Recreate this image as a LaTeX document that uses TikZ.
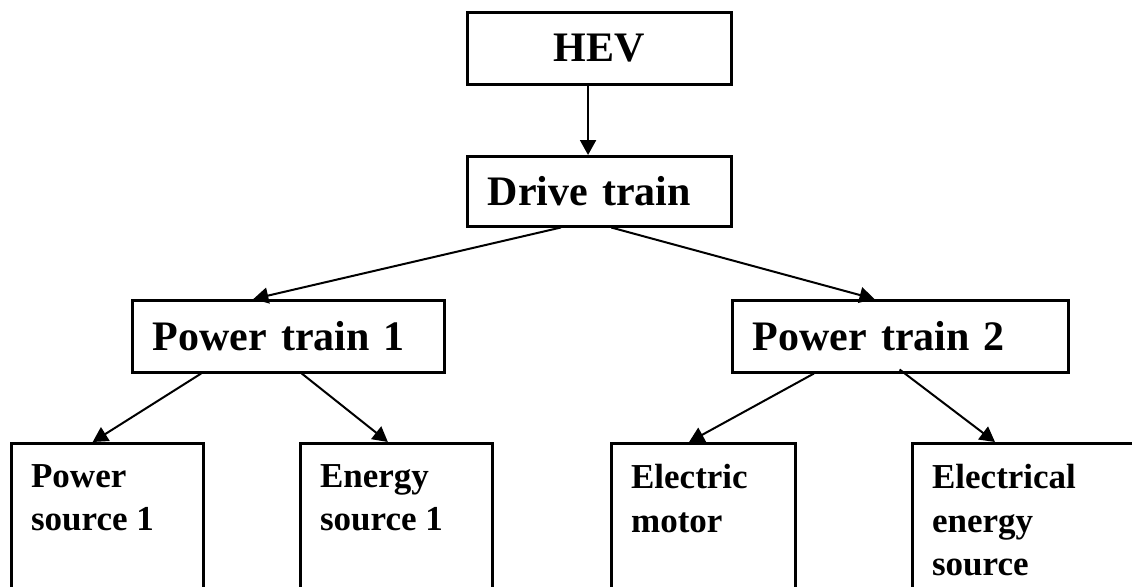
\documentclass[tikz,border=0pt]{standalone}
\usepackage{fontspec}
\setmainfont{Liberation Serif}
\usetikzlibrary{arrows.meta,calc}

\begin{document}
\begin{tikzpicture}[x=0.5pt, y=-0.5pt,
  box/.style={draw, line width=1.25pt, anchor=north west, inner sep=0pt,
    font=\fontsize{21}{25}\bfseries\selectfont},
  leaf/.style={draw, line width=1.25pt, anchor=north west, inner sep=0pt,
    minimum width=96pt, minimum height=90pt},
  leaftext/.style={anchor=north west, align=left, inner sep=0pt,
    font=\fontsize{17.5}{21.7}\bfseries\selectfont},
  link/.style={line width=1pt, -{Triangle[length=7.5pt,width=8pt]}}]
  \useasboundingbox (0,0) rectangle (1132,586);
  \clip (0,0) rectangle (1132,586);

  % upper levels
  \node[box, minimum width=132pt, minimum height=36pt] (hev) at (466,11) {HEV};
  \node[box, minimum height=35pt, inner xsep=10.35pt, text width=111.3pt, align=left] (drive) at (466,155) {Drive train};
  \node[box, minimum height=36pt, inner xsep=10.35pt, text width=135.3pt, align=left] (pt1) at (131,299) {Power train 1};
  \node[box, minimum height=36pt, inner xsep=10.35pt, text width=147.3pt, align=left] (pt2) at (731,299) {Power train 2};

  % sources
  \node[leaf] (ps1) at (10,442) {};
  \node[leaf] (es1) at (299,442) {};
  \node[leaf, minimum width=92pt] (em) at (610,442) {};
  \node[leaf, minimum width=120pt] (ees) at (911,442) {};
  \node[leaftext] (ps1t) at ($(ps1.north west)+(20.7,22)$) {Power\\source 1};
  \node[leaftext] (es1t) at ($(es1.north west)+(20.7,22)$) {Energy\\source 1};
  \node[leaftext] (emt) at ($(em.north west)+(20.7,22)$) {Electric\\motor};
  \node[leaftext] (eest) at ($(ees.north west)+(20.7,22)$) {Electrical\\energy\\source};

  \draw[link] ($(hev.south west)!0.458!(hev.south east)$) -- ($(drive.north west)!0.458!(drive.north east)$);
  \draw[link] ($(drive.south west)!0.356!(drive.south east)$) -- ($(pt1.north west)!0.389!(pt1.north east)$);
  \draw[link] ($(drive.south west)!0.545!(drive.south east)$) -- ($(pt2.north west)!0.424!(pt2.north east)$);
  \draw[link] ($(pt1.south west)!0.223!(pt1.south east)$) -- ($(ps1.north west)!0.425!(ps1.north east)$);
  \draw[link] ($(pt1.south west)!0.543!(pt1.south east)$) -- ($(es1.north west)!0.457!(es1.north east)$);
  \draw[link] ($(pt2.south west)!0.245!(pt2.south east)$) -- ($(em.north west)!0.424!(em.north east)$);
  \draw[link] ($(pt2.south west)!0.498!(pt2.south east)+(0,-4)$) -- ($(ees.north west)+(84,0)$);
\end{tikzpicture}
\end{document}
